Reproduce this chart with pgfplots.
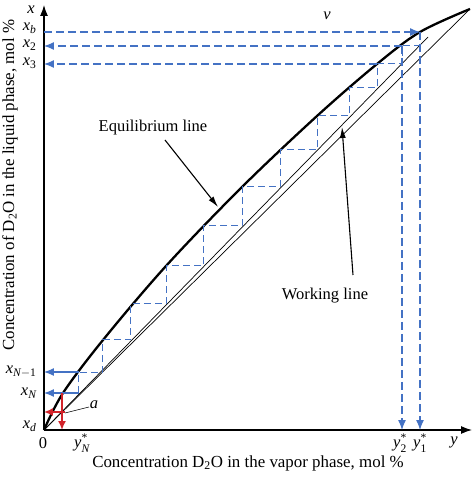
\documentclass[border=0pt]{standalone}
\usepackage{fontspec}
\setmainfont{Liberation Serif}
\usepackage{amsmath}
\usepackage{pgfplots}
\pgfplotsset{compat=1.18}
\usetikzlibrary{arrows.meta}
\definecolor{bl}{RGB}{68,114,196}
\definecolor{rd}{RGB}{210,35,42}
\newcommand{\vx}{\textit{x}}
\newcommand{\vy}{\textit{y}}
\begin{document}
\begin{tikzpicture}[font=\fontsize{16.5}{19}\selectfont]
\begin{axis}[
  x=1pt, y=1pt,
  xmin=0, xmax=428, ymin=0, ymax=425,
  axis lines=left,
  axis line style={line width=1.2pt, -{Latex[length=11pt,width=8pt]}},
  xtick=\empty, ytick=\empty,
  clip=false,
  blarr/.style={-{Latex[length=10pt,width=8pt]}},
]
% diagonal and working line
\addplot[black, line width=0.7pt] coordinates {(0,0) (426,421)};
\addplot[black, line width=0.7pt] coordinates {(0,0) (384,393)};
% equilibrium line
\addplot[black, line width=2.3pt, smooth, tension=0.55] coordinates {
  (0,0) (19,37) (59,90) (122,164) (198,243) (273,314) (333,366) (376,398) (426,421)};
% steps
\addplot[bl, line width=1pt, dash pattern=on 7pt off 4pt] coordinates {
  (35,37) (35,58) (59,58) (59,90) (87,90) (87,126) (122,126) (122,164)
  (159,164) (159,204) (198,204) (198,243) (236,243) (236,280) (273,280)
  (273,314) (305,314) (305,342) (333,342) (333,366) (358,366) (358,384)
  (376,384)};
% long projections
\addplot[bl, line width=1.2pt, dash pattern=on 8pt off 4pt, blarr] coordinates {(0,398) (376,398)};
\addplot[bl, line width=1.2pt, dash pattern=on 8pt off 4pt, blarr] coordinates {(358,384) (0,384)};
\addplot[bl, line width=1.2pt, dash pattern=on 8pt off 4pt, blarr] coordinates {(333,366) (0,366)};
\addplot[bl, line width=1.2pt, dash pattern=on 8pt off 4pt, blarr] coordinates {(376,398) (376,0)};
\addplot[bl, line width=1.2pt, dash pattern=on 8pt off 4pt, blarr] coordinates {(358,384) (358,0)};
\addplot[bl, line width=1.2pt, blarr] coordinates {(35,58) (0,58)};
\addplot[bl, line width=1.2pt, blarr] coordinates {(35,37) (0,37)};
% point a
\addplot[rd, line width=1.6pt, -{Latex[length=9pt,width=8pt]}] coordinates {(18,37) (18,0)};
\addplot[rd, line width=1.6pt, -{Latex[length=9pt,width=8pt]}] coordinates {(21,18) (0,18)};
\addplot[black, line width=0.6pt] coordinates {(21,17) (45,23)};
% pointers
\addplot[black, line width=1.1pt, -{Latex[length=11pt,width=6pt]}] coordinates {(121,290) (174,223)};
\addplot[black, line width=1.1pt, -{Latex[length=11pt,width=6pt]}] coordinates {(309,155) (298,303)};
% labels
\node at (axis cs:109,302) {Equilibrium line};
\node at (axis cs:281,134) {Working line};
\node at (axis cs:50,25) {\textit{a}};
\node at (axis cs:283,414) {\textit{v}};
\node at (axis cs:-13,420) {\vx};
\node[anchor=east] at (axis cs:-4,402) {$\vx_{\textit{b}}$};
\node[anchor=east] at (axis cs:-4,385) {$\vx_{\text{2}}$};
\node[anchor=east] at (axis cs:-4,367) {$\vx_{\text{3}}$};
\node[anchor=east] at (axis cs:-4,58) {$\vx_{\textit{N}-\text{1}}$};
\node[anchor=east] at (axis cs:-4,37) {$\vx_{\textit{N}}$};
\node[anchor=east] at (axis cs:-4,4) {$\vx_{\textit{d}}$};
\node at (axis cs:-1,-13) {0};
\node at (axis cs:38,-13) {$\vy^{\text{*}}_{\textit{N}}$};
\node at (axis cs:356,-13) {$\vy^{\text{*}}_{\text{2}}$};
\node at (axis cs:376,-13) {$\vy^{\text{*}}_{\text{1}}$};
\node at (axis cs:410,-12) {\vy};
\node[font=\fontsize{16.9}{19}\selectfont] at (axis cs:204,-33) {Concentration D\textsubscript{2}O in the vapor phase, mol \%};
\node[rotate=90, font=\fontsize{16.9}{19}\selectfont] at (axis cs:-34,245) {Concentration of D\textsubscript{2}O in the liquid phase, mol \%};
\coordinate (bbl) at (axis cs:-44,-47);
\coordinate (btr) at (axis cs:430,430);
\end{axis}
\pgfresetboundingbox
\path (bbl) rectangle (btr);
\end{tikzpicture}
\end{document}
